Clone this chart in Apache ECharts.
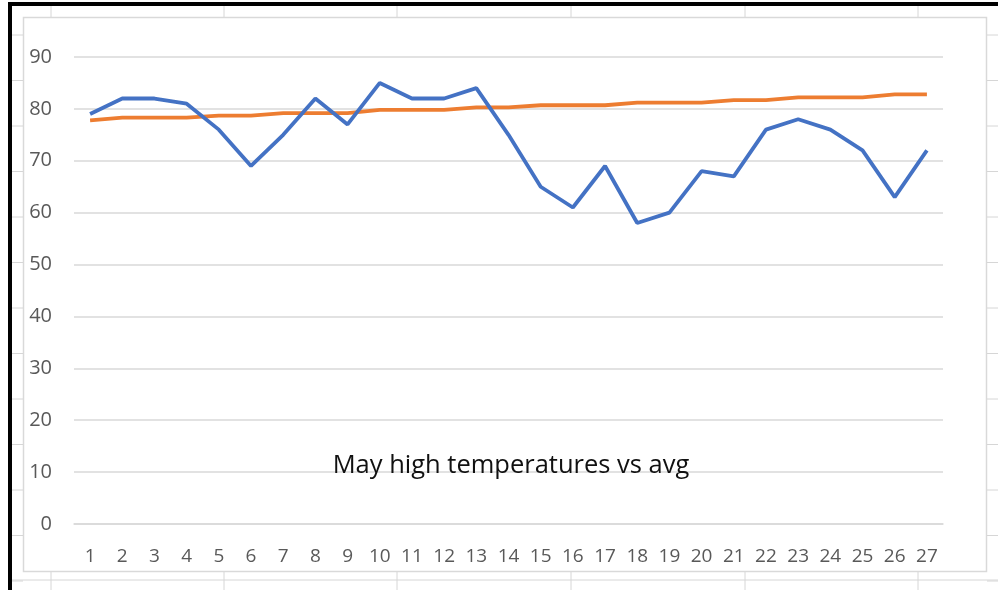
<!DOCTYPE html>
<html>
<head>
<meta charset="utf-8">
<script src="https://cdn.jsdelivr.net/npm/echarts@6/dist/echarts.min.js"></script>
<style>
  html, body { margin: 0; padding: 0; background: #fff; }
  #chart { width: 998px; height: 590px; }
</style>
</head>
<body>
<div id="chart"></div>
<script>
// days of May
const days = ['1','2','3','4','5','6','7','8','9','10','11','12','13','14','15','16','17','18','19','20','21','22','23','24','25','26','27']
// daily highs (blue)
const highs = [79, 82, 82, 81, 76, 69, 75, 82, 77, 85, 82, 82, 84, 75, 65, 61, 69, 58, 60, 68, 67, 76, 78, 76, 72, 63, 72]
// normal average high (orange)
const avgs = [77.8, 78.3, 78.3, 78.3, 78.7, 78.7, 79.2, 79.2, 79.2, 79.8, 79.8, 79.8, 80.3, 80.3, 80.7, 80.7, 80.7, 81.2, 81.2, 81.2, 81.7, 81.7, 82.2, 82.2, 82.2, 82.8, 82.8]
const yTicks = [0, 10, 20, 30, 40, 50, 60, 70, 80, 90]

const font = 'Open Sans'
const sheetLine = '#d6d6d6'

// spreadsheet cells around the chart (just decoration)
const deco = []
const cols = [51, 224, 397, 571, 745, 918]
cols.forEach(x => {
  deco.push({ type: 'line', shape: { x1: x, y1: 6, x2: x, y2: 17 }, style: { stroke: sheetLine, lineWidth: 1 } })
  deco.push({ type: 'line', shape: { x1: x, y1: 572, x2: x, y2: 590 }, style: { stroke: sheetLine, lineWidth: 1 } })
})
for (let k = 0; k < 13; k++) {
  const y = 35 + k * 45.5
  deco.push({ type: 'line', shape: { x1: 12, y1: y, x2: 23, y2: y }, style: { stroke: sheetLine, lineWidth: 1 } })
  deco.push({ type: 'line', shape: { x1: 987, y1: y, x2: 998, y2: y }, style: { stroke: sheetLine, lineWidth: 1 } })
}
deco.push({ type: 'line', shape: { x1: 12, y1: 580, x2: 998, y2: 580 }, style: { stroke: sheetLine, lineWidth: 1 } })
// chart area frame
deco.push({ type: 'rect', shape: { x: 23.5, y: 17.5, width: 963, height: 554 }, style: { fill: 'none', stroke: '#d9d9d9', lineWidth: 1.5 }, z: -1 })
// black selection border
deco.push({ type: 'rect', shape: { x: 8, y: 2, width: 4, height: 588 }, style: { fill: '#000' } })
deco.push({ type: 'rect', shape: { x: 8, y: 2, width: 990, height: 4 }, style: { fill: '#000' } })

const chart = echarts.init(document.getElementById('chart'))
chart.setOption({
  animation: false,
  backgroundColor: '#fff',
  title: {
    text: 'May high temperatures vs avg',
    left: 506,
    textAlign: 'center',
    top: 448,
    textStyle: { fontFamily: font, fontSize: 25.5, fontWeight: 'normal', color: '#111' }
  },
  grid: { left: 74, right: 55, top: 57, bottom: 66 },
  xAxis: {
    type: 'category',
    data: days,
    boundaryGap: true,
    axisLine: { show: true, lineStyle: { color: '#d9d9d9', width: 1.5 } },
    axisTick: { show: false },
    axisLabel: { interval: 0, margin: 23, fontFamily: font, fontSize: 19, color: '#595959' }
  },
  yAxis: {
    type: 'value',
    min: yTicks[0],
    max: yTicks[yTicks.length - 1],
    interval: 10,
    axisLine: { show: false },
    axisTick: { show: false },
    axisLabel: { margin: 22, fontFamily: font, fontSize: 20, color: '#595959' },
    splitLine: { lineStyle: { color: '#d9d9d9', width: 1.5 } }
  },
  series: [
    {
      name: 'High',
      type: 'line',
      data: highs,
      symbol: 'none',
      lineStyle: { color: '#4472C4', width: 3.8 },
      z: 3
    },
    {
      name: 'Avg',
      type: 'line',
      data: avgs,
      symbol: 'none',
      lineStyle: { color: '#ED7D31', width: 3.8 },
      z: 2
    }
  ],
  graphic: deco
})
</script>
</body>
</html>
